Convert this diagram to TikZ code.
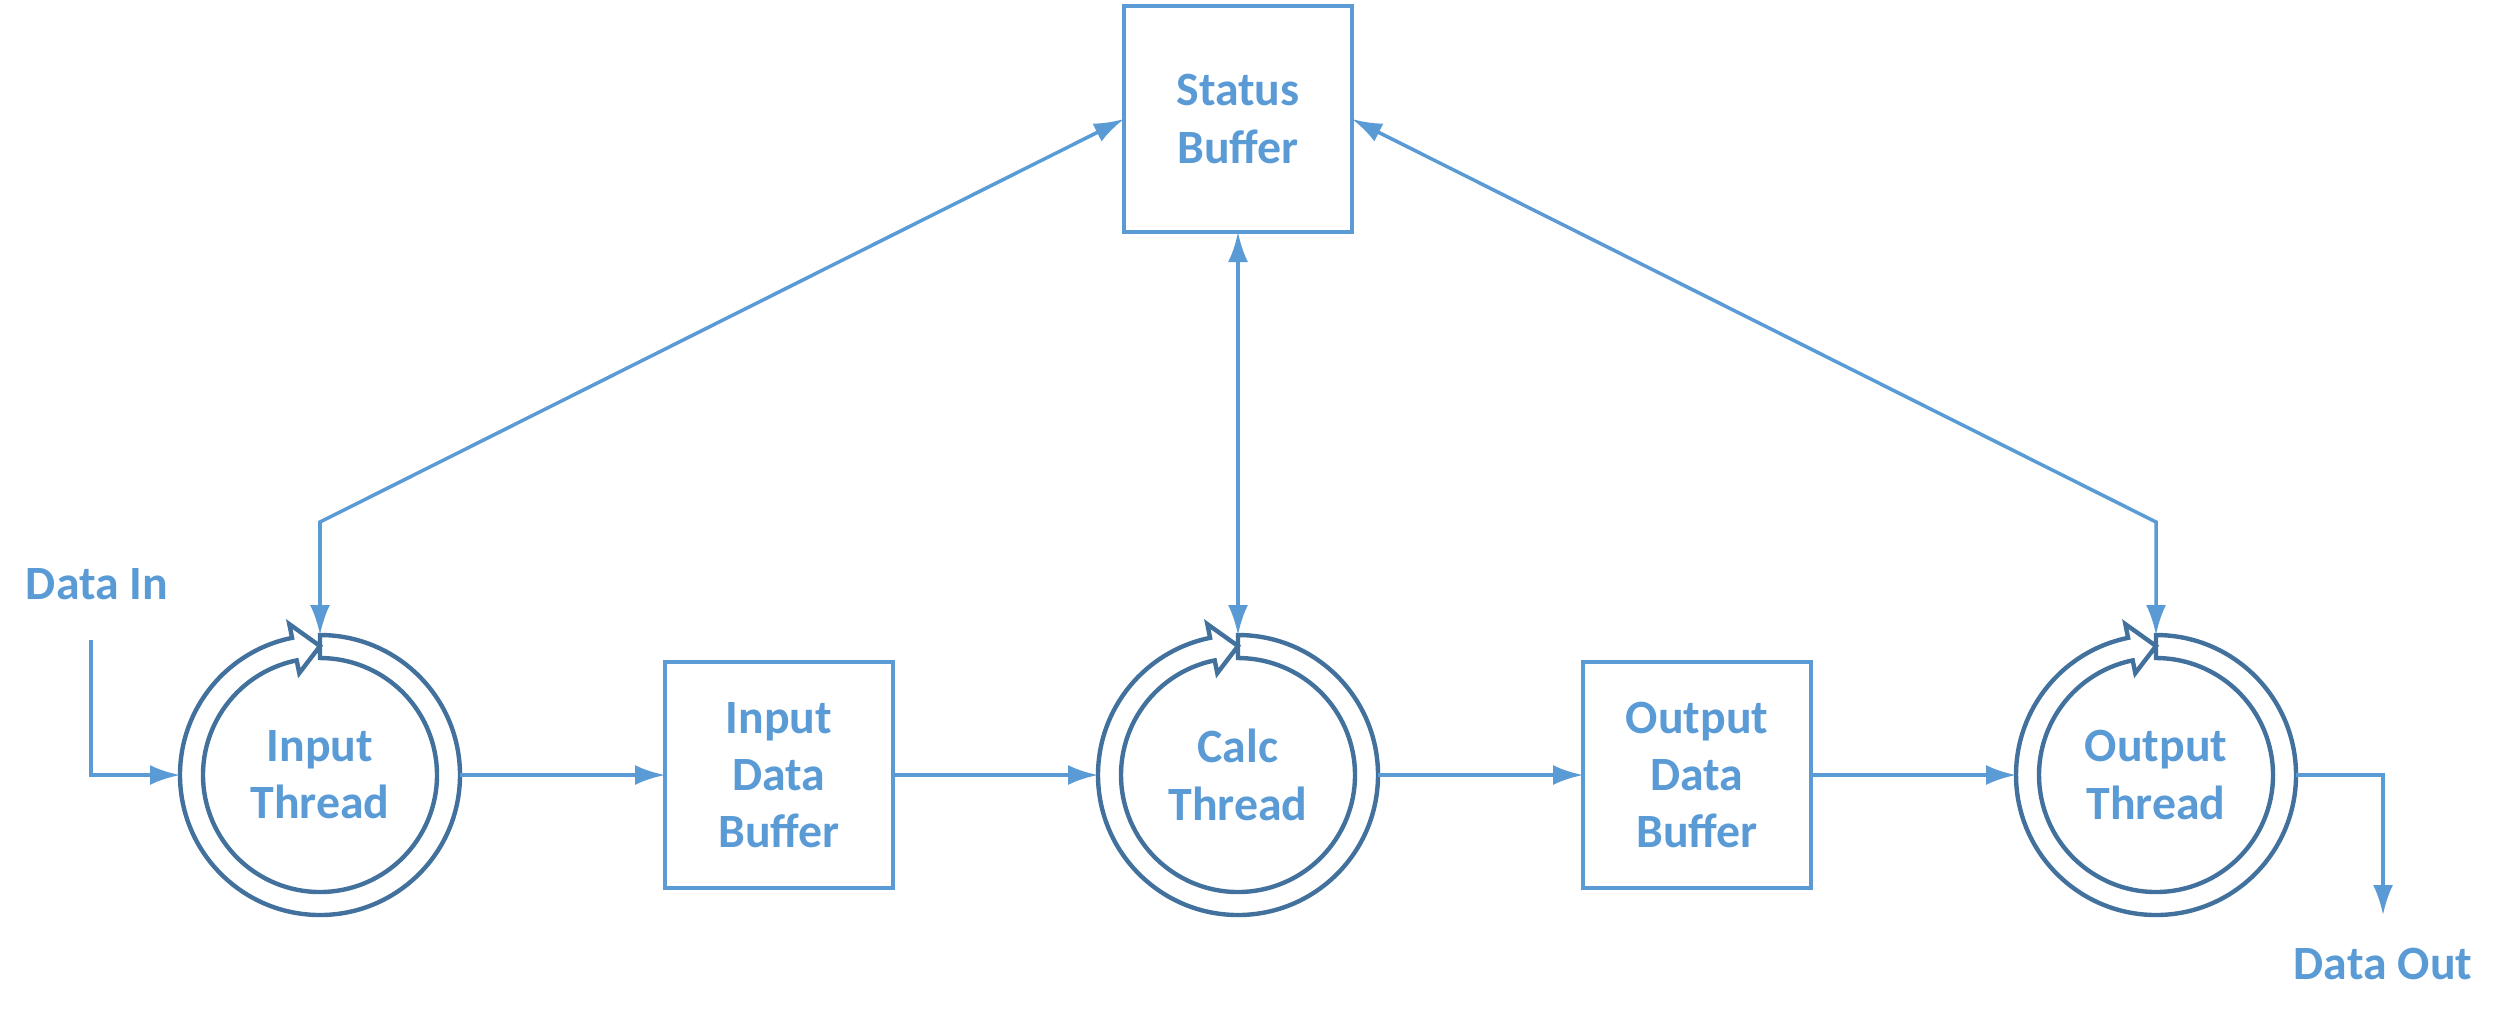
\documentclass[tikz,border=0pt]{standalone}
\usepackage{fontspec}
\setmainfont{Carlito}
\usetikzlibrary{
  arrows.meta,
  calc,
  positioning,
}
\definecolor{lblue}{HTML}{5B9BD5}
\definecolor{dblue}{HTML}{41719C}
\tikzset{
node distance=2.05cm,
  txt/.style={text=lblue, font=\fontsize{13.6}{16.3}\selectfont\bfseries, align=center},
  buf/.style={
    txt, draw=lblue, line width=1.35pt, minimum width=2.28cm, minimum height=2.26cm,
    inner sep=0pt, outer sep=0pt,
  },
  thrd/.style={txt, circle, minimum size=2.8cm, inner sep=0pt, outer sep=0pt},
  ring/.style={draw=dblue, line width=1.25pt, line join=miter},
  lbl/.style={txt},
  >={Latex[length=3mm,width=2mm]},
  flow/.style={draw=lblue, line width=1pt, ->},
  both/.style={draw=lblue, line width=1pt, <->},
}
\newcommand\threadring[1]{%
  \draw[ring]([shift={(90:1.4)}]#1.center) arc[start angle=90, end angle=-258.5, radius=1.4]
    -- ([shift={(101.5:1.54)}]#1.center) -- ([shift={(90:1.29)}]#1.center)
    -- ([shift={(101.5:1.04)}]#1.center) -- ([shift={(101.5:1.17)}]#1.center)
    arc[start angle=101.5, end angle=450, radius=1.17] -- cycle;
}

\begin{document}
\begin{tikzpicture}
  \useasboundingbox (0,0) rectangle (24.95,-10.15);
  \node[thrd](In) at (3.2,-7.75){Input\\Thread};
  \node[buf, right=of In](InBuf){Input\\Data\\Buffer};
  \node[thrd, right=of InBuf](Calc){Calc\\Thread};
  \node[buf, right=of Calc](OutBuf){Output\\Data\\Buffer};
  \node[thrd, right=of OutBuf](Out){Output\\Thread};
  %%
  \node[buf, above=4.03cm of Calc](Stat){Status\\Buffer};
  %%
  \threadring{In}
  \threadring{Calc}
  \threadring{Out}
  %%
  \draw[flow](In) -- (InBuf);
  \draw[flow](InBuf) -- (Calc);
  \draw[flow](Calc) -- (OutBuf);
  \draw[flow](OutBuf) -- (Out);
  %%
  \draw[both](Calc) -- (Stat);
  \draw[both](Stat.west) -- ([yshift=1.13cm]In.north) -- (In.north);
  \draw[both](Stat.east) -- ([yshift=1.13cm]Out.north) -- (Out.north);
  %%
  \coordinate[above left=1.35cm and 0.89cm of In.west](din);
  \node[lbl](DIn) at ([xshift=0.06cm,yshift=0.56cm]din){Data In};
  \draw[flow](din) |- (In.west);
  %%
  \coordinate[below right=1.4cm and 0.87cm of Out.east](dout);
  \draw[flow](Out.east) -| (dout);
  \node[lbl](DOut) at ([yshift=-0.49cm]dout){Data Out};
\end{tikzpicture}
\end{document}
